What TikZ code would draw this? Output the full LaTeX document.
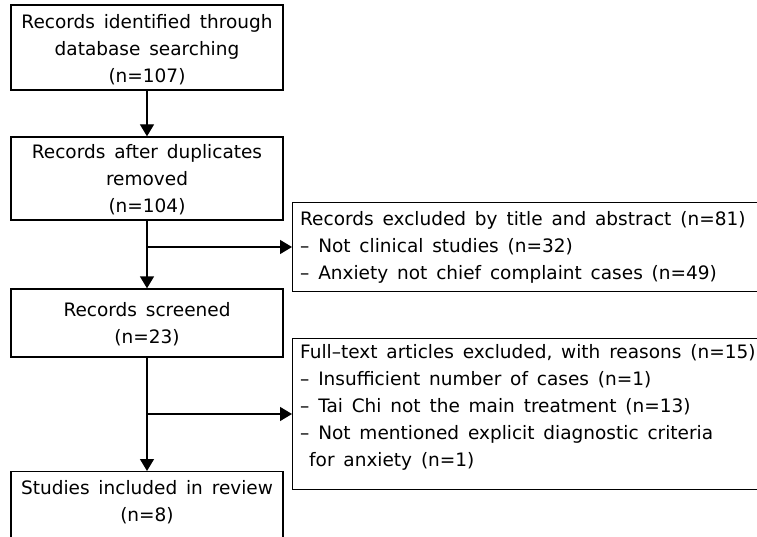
\documentclass[tikz,border=0pt]{standalone}
\usepackage{fontspec}
\setmainfont{DejaVu Sans}[WordSpace=1.5]
\usetikzlibrary{arrows.meta,calc}
\begin{document}
\begin{tikzpicture}[x=1pt,y=-1pt,
  every node/.style={font=\fontsize{18.5}{27}\selectfont},
  lbox/.style={draw, line width=1.3pt, minimum width=272pt, inner sep=0pt},
  ltext/.style={align=center, inner sep=0pt},
  rbox/.style={draw, line width=1.3pt, anchor=north west, minimum width=490pt, inner sep=0pt},
  rtext/.style={anchor=north west, inner sep=0pt, align=left},
  arr/.style={line width=1.3pt, -{Triangle[width=14pt,length=12pt]}},
  ]
\useasboundingbox (0,0) rectangle (757,537);
\clip (0,0) rectangle (757,537);
\fill[white] (0,0) rectangle (757,537);

\node[lbox, minimum height=85pt] (b1) at (147,47.5) {};
\node[ltext] (b1t) at (147,50) {Records identified through\\database searching\\(n=107)};
\node[lbox, minimum height=83pt] (b2) at (147,178.5) {};
\node[ltext] (b2t) at (147,180) {Records after duplicates\\removed\\(n=104)};
\node[lbox, minimum height=68pt] (b3) at (147,323) {};
\node[ltext] (b3t) at (147,324) {Records screened\\(n=23)};
\node[lbox, minimum height=90pt, anchor=north] (b4) at (147,471) {};
\node[ltext] (b4t) at (147,502) {Studies included in review\\(n=8)};

\node[rbox, minimum height=89pt] (r1) at (292,202) {};
\node[rtext] (r1t) at (300,211) {Records excluded by title and abstract (n=81)\\
– Not clinical studies (n=32)\\
– Anxiety not chief complaint cases (n=49)};

\node[rbox, minimum height=151pt] (r2) at (292,338) {};
\node[rtext] (r2t) at (300,344) {Full–text articles excluded, with reasons (n=15)\\
– Insufficient number of cases (n=1)\\
– Tai Chi not the main treatment (n=13)\\
– Not mentioned explicit diagnostic criteria\\
\hspace*{9pt}for anxiety (n=1)};

\coordinate (j1) at (147,247);
\coordinate (j2) at (147,414);

\draw[arr] (b1) -- (b2);
\draw[arr] (b2) -- (b3);
\draw[arr] (b3) -- (b4);
\draw[arr] (j1) -- (j1 -| r1.west);
\draw[arr] (j2) -- (j2 -| r2.west);
\end{tikzpicture}
\end{document}
